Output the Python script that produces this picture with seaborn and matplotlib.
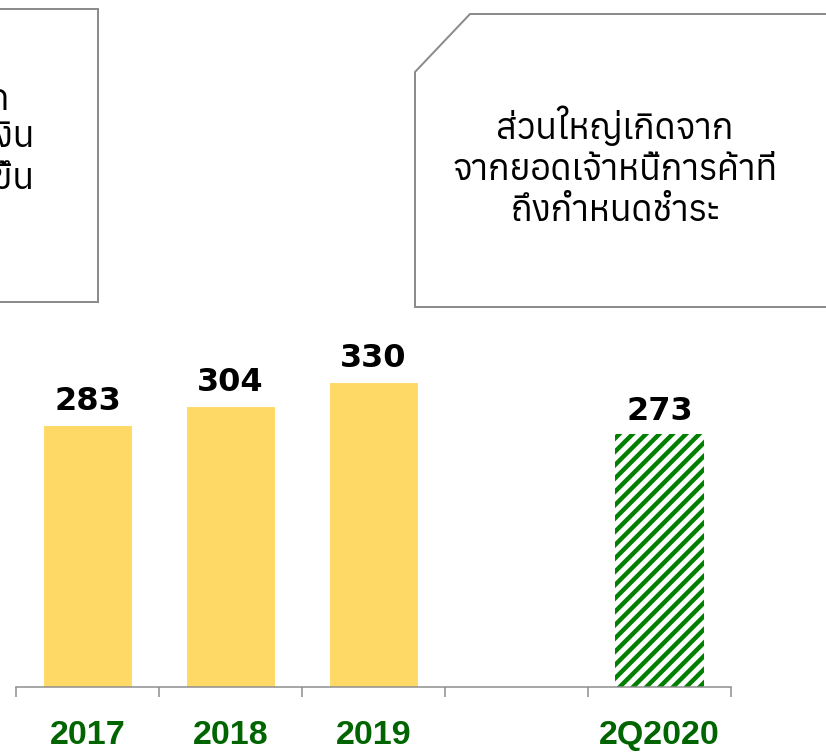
import numpy as np
import pandas as pd
import matplotlib
matplotlib.use("Agg")
import matplotlib.pyplot as plt
import seaborn as sns
from matplotlib import font_manager
from matplotlib.patches import Polygon
from fontTools.ttLib import TTFont

# ------------------------------------------------------------------
# data
# ------------------------------------------------------------------
categories = ["2017", "2018", "2019", "", "2Q2020"]
values = [283, 304, 330, np.nan, 273]
left_note = ["ส่วนใหญ่เกิดจาก", "กู้ยืมจากสถาบันการเงิน", "ระยะสั้นที่มีการเพิ่มขึ้น"]
right_note = ["ส่วนใหญ่เกิดจาก", "จากยอดเจ้าหนี้การค้าที่", "ถึงกำหนดชำระ"]

BAR_COLOR = "#FFD966"
HATCH_GREEN = "#008000"
LABEL_GREEN = "#006400"
GREY = "#8C8C8C"

W, H, DPI = 826, 752, 80


def fx(px):
    return px / W


def fy(py):
    return 1 - py / H


def find_thai_font():
    # first installed family that has Thai glyphs (prefer regular weight)
    found = []
    for f in font_manager.fontManager.ttflist:
        try:
            tt = TTFont(f.fname, fontNumber=0, lazy=True)
            cmap = tt.getBestCmap()
        except Exception:
            continue
        if cmap and 0x0E2A in cmap:
            w = f.weight if isinstance(f.weight, int) else 400
            found.append((abs(w - 400), f.name))
    found.sort()
    return found[0][1] if found else "DejaVu Sans"


sns.set_style("white")
plt.rcParams["hatch.linewidth"] = 4
thai_font = find_thai_font()

fig = plt.figure(figsize=(W / DPI, H / DPI), dpi=DPI)
ax = fig.add_axes([fx(16), fy(687), fx(731) - fx(16), (687 - 317) / H])

df = pd.DataFrame({"period": categories, "value": values})
sns.barplot(data=df, x="period", y="value", order=categories, color=BAR_COLOR,
            saturation=1, width=0.62, ax=ax)

# hatched bar for the latest period
for p in ax.patches:
    if abs(p.get_x() + p.get_width() / 2 - 4) < 0.01:
        p.set_facecolor("white")
        p.set_edgecolor(HATCH_GREEN)
        p.set_hatch("//")
        p.set_linewidth(0)

ax.bar_label(ax.containers[0], fmt="%.0f", padding=7, fontsize=28.8,
             fontweight="bold", family="DejaVu Sans", color="black")

ax.set_xlim(-0.5, 4.5)
ax.set_ylim(0, 400)
ax.set_yticks([])
ax.set_xlabel("")
ax.set_ylabel("")

# tick marks between categories, labels at the centres
ax.set_xticks(np.arange(-0.5, 5.0, 1.0))
ax.set_xticks(range(len(categories)), labels=categories, minor=True)
ax.tick_params(axis="x", which="major", length=9, width=1.35, color=GREY,
               direction="out", labelbottom=False, bottom=True)
ax.tick_params(axis="x", which="minor", length=0, pad=29.7, labelsize=30.6,
               labelcolor=LABEL_GREEN)
for t in ax.get_xticklabels(minor=True):
    t.set_fontweight("bold")
    t.set_family("Liberation Sans")

for s in ["left", "top", "right"]:
    ax.spines[s].set_visible(False)
ax.spines["bottom"].set_color(GREY)
ax.spines["bottom"].set_linewidth(1.35)

# note boxes above the chart
left_box = [(-400, 9), (98, 9), (98, 302), (-400, 302)]
right_box = [(415, 307), (415, 72), (470, 14), (840, 14), (840, 307)]
for pts in [left_box, right_box]:
    fig.add_artist(Polygon([(fx(x), fy(y)) for x, y in pts], closed=True,
                           transform=fig.transFigure, facecolor="white",
                           edgecolor=GREY, linewidth=1.8))

thai = dict(fontsize=32, fontweight="medium", family=[thai_font, "DejaVu Sans"],
            color="black")

# left box: only the line endings show inside the picture
for line, x_end, y in zip(left_note, [9, 35, 34], [97, 138, 179]):
    fig.text(fx(x_end), fy(y), line, ha="right", va="center", **thai)

fig.text(fx(615), fy(167), "\n".join(right_note), ha="center", va="center",
         linespacing=1.25, **thai)

fig.savefig("out.png", dpi=DPI)
